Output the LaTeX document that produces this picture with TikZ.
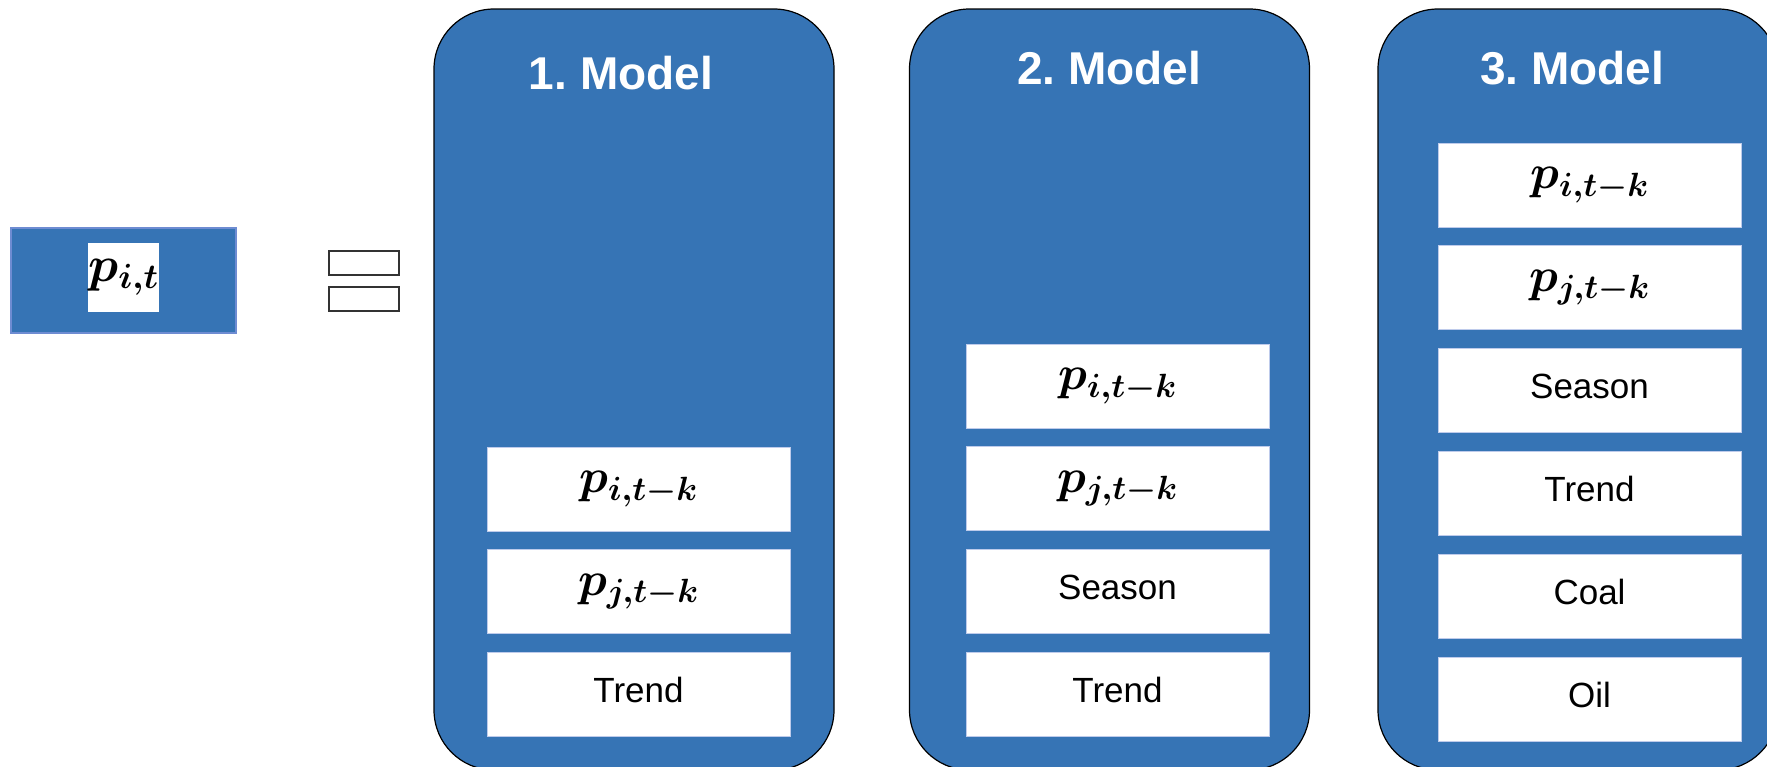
\RequirePackage{fix-cm}
\documentclass[tikz,border=0pt]{standalone}
\usepackage{amsmath}
\usepackage{fontspec}
\setmainfont{Liberation Sans}
\usetikzlibrary{positioning}
\definecolor{modelblue}{RGB}{54,116,181}
\definecolor{edgeblue}{RGB}{110,140,210}
\newcommand{\lagvar}[1]{$\boldsymbol{p_{#1,t-k}}$}
\frenchspacing
\tikzset{
    model/.style = {draw=black, line width=1.2pt, fill=modelblue, rounded corners=60pt,
        minimum width=400pt, minimum height=761pt, inner sep=0pt},
    modeltitle/.style = {text=white, inner sep=0pt, font=\fontsize{46}{55}\selectfont\bfseries},
    var/.style = {draw=edgeblue!45, line width=0.8pt, fill=white, inner sep=0pt,
        minimum width=303pt, minimum height=84pt, text depth=9pt,
        font=\fontsize{35}{42}\selectfont},
    mathvar/.style = {var, text depth=, font=\fontsize{48}{56}\selectfont},
    eqbar/.style = {draw=black!80, line width=1.5pt, fill=white, inner sep=0pt,
        minimum width=70pt, minimum height=24pt},
}
\begin{document}
\begin{tikzpicture}[x=1pt, y=-1pt, node distance=18pt]
    \clip (0,0) rectangle (1767,766);
    \fill[white] (0,0) rectangle (1767,766);
    % target
    \node[draw=edgeblue, line width=1.5pt, fill=modelblue, minimum width=225pt,
        minimum height=105pt] (inp) at (123.5,280.5) {};
    \node[fill=white, inner sep=0pt, minimum width=67pt, minimum height=69pt,
        font=\fontsize{50}{58}\selectfont] (inpv) at (123.5,277.5) {$\boldsymbol{p_{i,t}}$};
    % equals sign
    \node[eqbar] (eq1) at (364,263) {};
    \node[eqbar] (eq2) at (364,299) {};
    % models
    \node[model] (m1) at (634,389.5) {};
    \node[model] (m2) at (1109.5,389.5) {};
    \node[model] (m3) at (1578,389.5) {};
    \node[modeltitle] (t1) at (621,73) {1. Model};
    \node[modeltitle] (t2) at (1109,68) {2. Model};
    \node[modeltitle] (t3) at (1572,68) {3. Model};
    % 1. model
    \node[mathvar] (a1) at (638.5,489) {\lagvar{i}};
    \node[mathvar, below=of a1] (a2) {\lagvar{j}};
    \node[var, below=of a2] (a3) {Trend};
    % 2. model
    \node[mathvar] (b1) at (1117.5,386) {\lagvar{i}};
    \node[mathvar, below=of b1] (b2) {\lagvar{j}};
    \node[var, below=of b2] (b3) {Season};
    \node[var, below=of b3] (b4) {Trend};
    % 3. model
    \node[mathvar] (c1) at (1589.5,185) {\lagvar{i}};
    \node[mathvar, below=of c1] (c2) {\lagvar{j}};
    \node[var, below=of c2] (c3) {Season};
    \node[var, below=of c3] (c4) {Trend};
    \node[var, below=of c4] (c5) {Coal};
    \node[var, below=of c5] (c6) {Oil};
\end{tikzpicture}
\end{document}
